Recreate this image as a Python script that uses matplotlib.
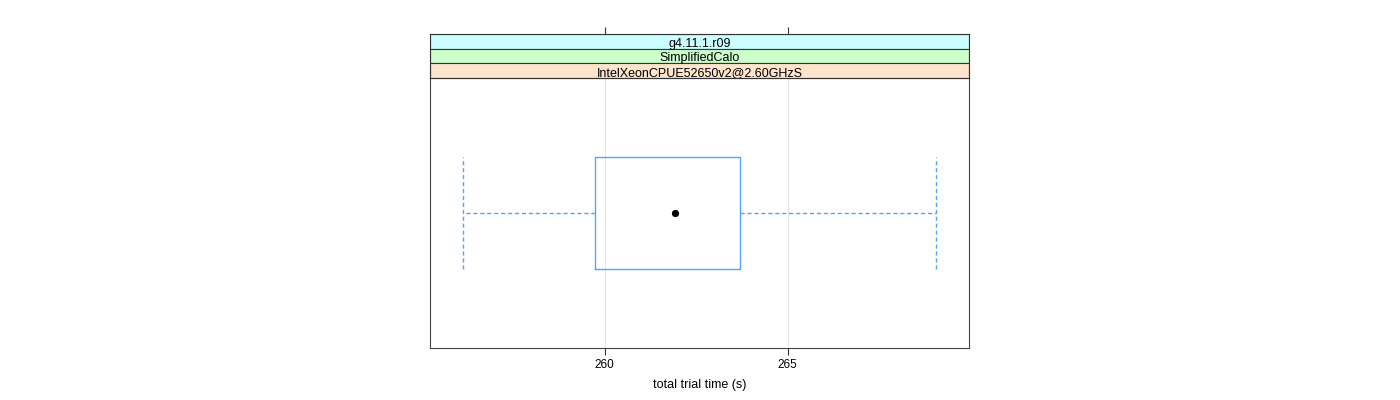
import matplotlib
matplotlib.use("Agg")
import matplotlib.pyplot as plt
from matplotlib.patches import Rectangle

plt.rcParams['font.family'] = ['Liberation Sans', 'DejaVu Sans']

# data
strip_labels = ["g4.11.1.r09", "SimplifiedCalo", "IntelXeonCPUE52650v2@2.60GHzS"]
strip_colors = ["#ccffff", "#ccffcc", "#ffe5cc"]
whisker_low = 256.11
q1 = 259.73
median = 261.93
q3 = 263.69
whisker_high = 269.06
xticks = [260, 265]
xlabel = "total trial time (s)"
xlim = (255.22, 269.96)

W, H = 1400, 400
fig = plt.figure(figsize=(14, 4), dpi=100)

left, right = 430 / W, 969 / W
ax = fig.add_axes([left, 1 - 348 / H, right - left, (348 - 78) / H])
sax = fig.add_axes([left, 1 - 78 / H, right - left, (78 - 34) / H], sharex=ax)

box_col = "#52a5f5"
stats = [dict(whislo=whisker_low, q1=q1, med=median, q3=q3, whishi=whisker_high, fliers=[])]
ax.bxp(stats, positions=[1], widths=0.415, vert=False, showcaps=False,
       boxprops=dict(color=box_col, linewidth=1.0),
       whiskerprops=dict(color=box_col, linewidth=1.0, linestyle=(0, (3, 2))),
       medianprops=dict(linewidth=0))
ax.plot([median], [1], 'o', color='black', markersize=4.2)
for v in (whisker_low, whisker_high):
    ax.vlines(v, 1 - 0.415 / 2, 1 + 0.415 / 2, color=box_col, linewidth=1.0,
              linestyles=[(0, (3, 2))])

ax.set_xlim(*xlim)
ax.set_ylim(0.5, 1.5)
ax.set_yticks([])
ax.set_xticks(xticks)
ax.set_xticklabels([str(t) for t in xticks], fontsize=8.5)
for t in xticks:
    ax.axvline(t, color='#e6e6e6', linewidth=0.8, zorder=0)
ax.tick_params(axis='x', direction='out', length=5, width=0.8, color='#333333', pad=3)
ax.set_xlabel(xlabel, fontsize=9, labelpad=6)
for s in ax.spines.values():
    s.set_color('#444444')
    s.set_linewidth(0.8)

# strips
sax.set_ylim(0, 3)
for i, (lab, col) in enumerate(zip(strip_labels, strip_colors)):
    y = 2 - i
    sax.add_patch(Rectangle((xlim[0], y), xlim[1] - xlim[0], 1, facecolor=col,
                            edgecolor='#333333', linewidth=0.8, zorder=1))
    sax.text((xlim[0] + xlim[1]) / 2, y + 0.45, lab, ha='center', va='center_baseline',
             fontsize=9, zorder=2)
sax.set_yticks([])
sax.tick_params(axis='x', which='both', bottom=False, labelbottom=False,
                top=True, labeltop=False, direction='out', length=5, width=0.8,
                color='#333333')
for s in sax.spines.values():
    s.set_color('#333333')
    s.set_linewidth(0.8)

fig.savefig("out.png", dpi=100)
